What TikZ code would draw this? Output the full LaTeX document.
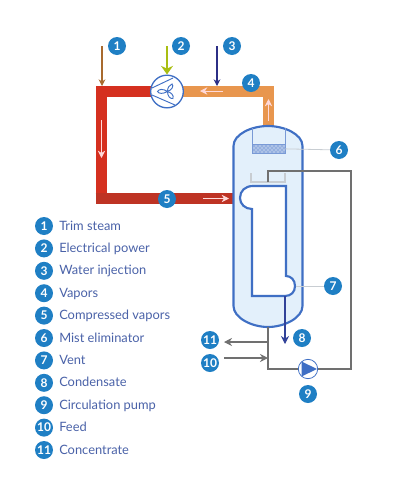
\documentclass[tikz,border=0pt]{standalone}
\usepackage{fontspec}
\setmainfont{Lato}
\usepackage{xcolor}
\definecolor{cBadge}{HTML}{1F7FC4}
\definecolor{cText}{HTML}{4A62A8}
\definecolor{cShell}{HTML}{3F6FC4}
\definecolor{cLiquid}{HTML}{E3F0FB}
\definecolor{cRed}{HTML}{D5301F}
\definecolor{cRedDark}{HTML}{BE3324}
\definecolor{cOrange}{HTML}{E8964E}
\definecolor{cTrim}{HTML}{A86A2E}
\definecolor{cPower}{HTML}{A9BE12}
\definecolor{cNavy}{HTML}{2C2F86}
\definecolor{cGrayLine}{HTML}{707070}
\definecolor{cPale}{HTML}{C8CDD2}
\usetikzlibrary{positioning,arrows.meta,patterns}
\tikzset{
  node-badge/.style={circle,fill=cBadge,text=white,inner sep=0pt,outer sep=0pt,minimum size=13.5pt,font=\fontsize{9}{9}\selectfont\bfseries},
  node-key/.style={text=cText,inner sep=0pt,anchor=west,text height=7.6pt,text depth=1.4pt,font=\fontsize{9.65}{11}\selectfont},
  node-fan/.style={circle,draw=cShell,fill=white,line width=1pt,minimum size=24.5pt,inner sep=0pt},
  node-pump/.style={circle,draw=cShell,fill=white,line width=.6pt,minimum size=14.5pt,inner sep=0pt},
  pipe-red/.style={line width=8.6pt,draw=cRed},
  pipe-dark/.style={line width=8.4pt,draw=cRedDark},
  pipe-orange/.style={line width=8.4pt,draw=cOrange},
  arrow-flow/.style={-{Stealth[length=5.5pt,width=5.5pt]},line width=.7pt,draw=white!85!red},
  arrow-trim/.style={-{Stealth[length=5pt,width=5pt]},line width=.8pt,draw=cTrim},
  arrow-power/.style={-{Stealth[length=6.5pt,width=9pt]},line width=2.2pt,draw=cPower},
  arrow-water/.style={-{Stealth[length=5pt,width=5pt]},line width=.8pt,draw=cNavy},
  arrow-cond/.style={-{Stealth[length=6pt,width=6pt]},line width=.8pt,draw=cNavy!70!cShell},
  arrow-line/.style={-{Stealth[length=6pt,width=6pt]},line width=.8pt,draw=cGrayLine},
  line-gray/.style={line width=.8pt,draw=cGrayLine},
  line-pale/.style={line width=.6pt,draw=cPale},
  wall/.style={line width=1.6pt,draw=cShell},
  blade/.style={draw=cShell,line width=.7pt,fill=white},
}
\begin{document}
\begin{tikzpicture}[x=.75pt,y=-.75pt,node distance=3.3pt and 4pt]
  \useasboundingbox (0,0) rectangle (400,486);
  % top row
  \node[node-badge] (n1) at (117,46) {1};
  \node[node-badge] (n2) at (181,46) {2};
  \node[node-badge] (n3) at (232,46) {3};
  \coordinate (trim) at (102,46);
  \coordinate (power) at (167,46);
  \coordinate (water) at (217,46);
  % pipes
  \coordinate (fanc) at (167,91.5);
  \coordinate (riser) at (268.5,128);
  \coordinate (elbowr) at (268.5,91.5);
  \coordinate (elbowl) at (101.5,91.5);
  \coordinate (elbowb) at (101.5,198.5);
  \coordinate (inlet) at (242,198.5);
  \draw[pipe-orange] (riser) -- (elbowr) -- (fanc);
  \draw[pipe-red] (fanc) -- (elbowl) -- (elbowb);
  \draw[pipe-dark,line cap=butt] (95.7,198.5) -- (inlet);
  \node[node-fan] (fan) at (fanc) {};
  % fan blades
  \draw[draw=cShell,line width=.7pt] (152,88) -- (173,78) (152,95) -- (175,105);
  \draw[blade] (167.5,91.5) .. controls (163,88.5) and (159,89) .. (157.5,91.5) .. controls (159,94) and (163,94) .. (167.5,91.5);
  \draw[blade] (167.5,91.5) .. controls (167.5,88) and (169,85) .. (172,84) .. controls (174,86) and (172,90) .. (167.5,91.5);
  \draw[blade] (167.5,91.5) .. controls (171,92.5) and (174,95) .. (173,98.5) .. controls (170,99) and (167.5,96) .. (167.5,91.5);
  % vessel
  \draw[wall,fill=cLiquid] (233.5,146) .. controls (233.5,134) and (252,126) .. (268,126)
    .. controls (284,126) and (302.5,134) .. (302.5,146) -- (302.5,306)
    .. controls (302.5,318) and (284,327) .. (268,327)
    .. controls (252,327) and (233.5,318) .. (233.5,306) -- cycle;
  % inner tube
  \draw[wall,fill=white] (286,186) -- (253,186)
    .. controls (245,186) and (240,191) .. (240,198)
    .. controls (240,204) and (245,209) .. (252,209) -- (252,296) -- (285,296)
    .. controls (291,296) and (295,292) .. (295,286)
    .. controls (295,280) and (291,276) .. (286,276) -- cycle;
  % mist eliminator
  \draw[line-pale,draw=cShell!70] (252,128) -- (252,144) (285,128) -- (285,144);
  \node[draw=cShell!70,preaction={fill=cShell!55},pattern=crosshatch dots,pattern color=white,inner sep=0pt,minimum width=25pt,minimum height=7pt] (mist) at (268.5,148.5) {};
  \node[node-badge] (n6) at (339,150) {6};
  \draw[line-pale] (mist) -- (n6);
  % tray and circulation loop
  \draw[line-pale,line width=.9pt] (251,173) -- (251,182) -- (285,182) -- (285,173);
  \coordinate (tray) at (268,182);
  \coordinate (top) at (268,171);
  \coordinate (topr) at (351,171);
  \coordinate (botr) at (351,369);
  \coordinate (botl) at (268,369);
  \coordinate (bottom) at (268,327);
  \coordinate (out) at (268,342);
  \coordinate (in) at (268,358);
  \node[node-pump] (pump) at (308,369) {};
  \draw[line-gray] (tray) -- (top) -- (topr) -- (botr) -- (pump);
  \draw[line-gray] (pump) -- (botl) -- (bottom);
  \fill[cShell] (301.5,361.5) -- (317,369) -- (301.5,376.5) -- cycle;
  \node[node-badge] (n9) at (308,394) {9};
  \node[node-badge] (n11) at (210,340) {11};
  \node[node-badge] (n10) at (210,363) {10};
  \coordinate (outend) at (224,342);
  \coordinate (inend) at (224,358);
  \draw[arrow-line] (out) -- (outend);
  \draw[arrow-line] (inend) -- (in);
  % condensate, vent
  \coordinate (drain) at (285,296);
  \coordinate (drainend) at (285,344);
  \draw[arrow-cond] (drain) -- (drainend);
  \node[node-badge] (n8) at (302,338) {8};
  \node[node-badge] (n7) at (333,286) {7};
  \coordinate (vent) at (296,286);
  \draw[line-pale] (vent) -- (n7);
  % feeds
  \draw[arrow-trim] (trim) -- (102,86);
  \draw[arrow-power] (power) -- (fan.north);
  \draw[arrow-water] (water) -- (217,86);
  % flow marks
  \draw[arrow-flow] (101.5,120) -- (101.5,158);
  \draw[arrow-flow] (203,198.5) -- (229,198.5);
  \draw[arrow-flow] (223,91) -- (200,91);
  \draw[arrow-flow] (268.5,121) -- (268.5,99);
  \node[node-badge] (n4) at (251,83) {4};
  \node[node-badge] (n5) at (167,199) {5};
  % key
  \node[node-badge] (k1) at (44,226) {1};
  \node[node-key,right=4.5pt of k1] (t1) {Trim steam};
  \node[node-badge,below=of k1] (k2) {2};
  \node[node-key,right=4.5pt of k2] (t2) {Electrical power};
  \node[node-badge,below=of k2] (k3) {3};
  \node[node-key,right=4.5pt of k3] (t3) {Water injection};
  \node[node-badge,below=of k3] (k4) {4};
  \node[node-key,right=4.5pt of k4] (t4) {Vapors};
  \node[node-badge,below=of k4] (k5) {5};
  \node[node-key,right=4.5pt of k5] (t5) {Compressed vapors};
  \node[node-badge,below=of k5] (k6) {6};
  \node[node-key,right=4.5pt of k6] (t6) {Mist eliminator};
  \node[node-badge,below=of k6] (k7) {7};
  \node[node-key,right=4.5pt of k7] (t7) {Vent};
  \node[node-badge,below=of k7] (k8) {8};
  \node[node-key,right=4.5pt of k8] (t8) {Condensate};
  \node[node-badge,below=of k8] (k9) {9};
  \node[node-key,right=4.5pt of k9] (t9) {Circulation pump};
  \node[node-badge,below=of k9] (k10) {10};
  \node[node-key,right=4.5pt of k10] (t10) {Feed};
  \node[node-badge,below=of k10] (k11) {11};
  \node[node-key,right=4.5pt of k11] (t11) {Concentrate};
\end{tikzpicture}
\end{document}
